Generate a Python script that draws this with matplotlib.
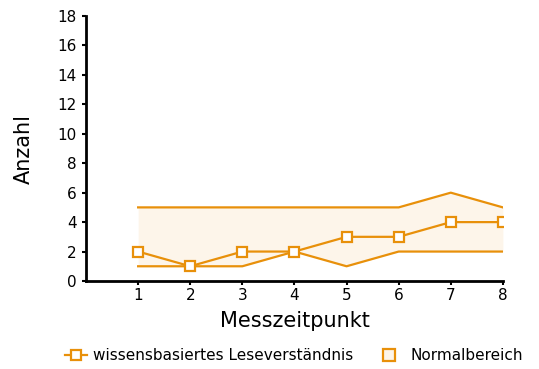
import matplotlib
matplotlib.use("Agg")
import matplotlib.pyplot as plt
from matplotlib.lines import Line2D

x = [1, 2, 3, 4, 5, 6, 7, 8]
wissen = [2, 1, 2, 2, 3, 3, 4, 4]
norm_upper = [5, 5, 5, 5, 5, 5, 6, 5]
norm_lower = [1, 1, 1, 2, 1, 2, 2, 2]
yticks = list(range(0, 19, 2))

orange = "#E8900A"
fillc = "#FDF5EA"

fig = plt.figure(figsize=(5.39, 3.69), dpi=100)
ax = fig.add_axes([0.1596, 0.2385, 0.933 - 0.1596, 0.9566 - 0.2385])

ax.fill_between(x, norm_lower, norm_upper, color=fillc, linewidth=0)
ax.plot(x, norm_upper, color=orange, lw=1.6)
ax.plot(x, norm_lower, color=orange, lw=1.6)
ax.plot(x, wissen, color=orange, lw=1.6, marker='s', markersize=7,
        markerfacecolor='white', markeredgecolor=orange, markeredgewidth=1.6)

ax.set_xlim(0, 8)
ax.set_ylim(0, 18)
ax.set_xticks(x)
ax.set_yticks(yticks)
ax.tick_params(labelsize=11, length=3, width=1.5)
ax.tick_params(axis='x', pad=2)
for s in ['top', 'right']:
    ax.spines[s].set_visible(False)
for s in ['left', 'bottom']:
    ax.spines[s].set_linewidth(2)
ax.set_xlabel("Messzeitpunkt", fontsize=15, labelpad=6)
ax.set_ylabel("Anzahl", fontsize=15, labelpad=17)

fig.text(93 / 539, 1 - 355 / 369, "wissensbasiertes Leseverständnis", fontsize=11,
         va='center', ha='left')
fig.text(410 / 539, 1 - 355 / 369, "Normalbereich", fontsize=11,
         va='center', ha='left')
fig.add_artist(Line2D([65 / 539, 87 / 539], [1 - 355 / 369] * 2, color=orange, lw=1.6,
                      transform=fig.transFigure))
fig.add_artist(Line2D([76 / 539], [1 - 355 / 369], marker='s', markersize=7,
                      markerfacecolor='white', markeredgecolor=orange, markeredgewidth=1.6,
                      lw=0, transform=fig.transFigure))
fig.add_artist(Line2D([389 / 539], [1 - 355 / 369], marker='s', markersize=8,
                      markerfacecolor=fillc, markeredgecolor=orange, markeredgewidth=1.6,
                      lw=0, transform=fig.transFigure))

fig.savefig("out.png", dpi=100)
